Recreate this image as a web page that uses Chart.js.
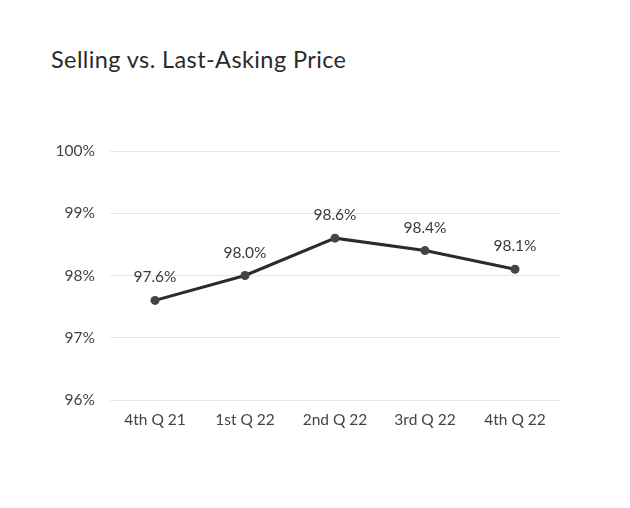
<!DOCTYPE html>
<html>
<head>
<meta charset="utf-8">
<script src="https://cdn.jsdelivr.net/npm/chart.js@4"></script>
<style>
  html, body { margin: 0; padding: 0; background: #fff; }
  #wrap { position: relative; width: 630px; height: 508px; }
  #title {
    position: absolute; left: 51px; top: 45px; margin: 0;
    font-family: Lato, "Open Sans", sans-serif; font-weight: 400;
    font-size: 23.5px; color: #2a2a2a; letter-spacing: 0.4px;
  }
  canvas { position: absolute; left: 0; top: 0; }
</style>
</head>
<body>
<div id="wrap">
  <h1 id="title">Selling vs. Last-Asking Price</h1>
  <canvas id="chart" width="630" height="508"></canvas>
</div>
<script>
// 数据
const quarters = ['4th Q 21', '1st Q 22', '2nd Q 22', '3rd Q 22', '4th Q 22'];
const ratioValues = [97.6, 98.0, 98.6, 98.4, 98.1];
const yTicks = [96, 97, 98, 99, 100];

const FONT = 'Lato, "Open Sans", sans-serif';

// 数值标签
const pointLabels = {
    id: 'pointLabels',
    afterDatasetsDraw(chart) {
        const ctx = chart.ctx;
        const meta = chart.getDatasetMeta(0);
        ctx.save();
        ctx.font = '15.5px ' + FONT;
        ctx.fillStyle = '#3a3a3a';
        ctx.textAlign = 'center';
        ctx.textBaseline = 'middle';
        meta.data.forEach((pt, i) => {
            ctx.fillText(ratioValues[i].toFixed(1) + '%', pt.x, pt.y - 23);
        });
        ctx.restore();
    }
};

new Chart(document.getElementById('chart'), {
    type: 'line',
    data: {
        labels: quarters,
        datasets: [{
            data: ratioValues,
            borderColor: '#2b2b2b',
            borderWidth: 3,
            pointRadius: 4.5,
            pointBackgroundColor: '#444',
            pointBorderColor: '#444',
            pointBorderWidth: 0,
            tension: 0
        }]
    },
    options: {
        responsive: false,
        animation: false,
        layout: { padding: { left: 0, right: 70, top: 151, bottom: 0 } },
        plugins: {
            legend: { display: false },
            tooltip: { enabled: false }
        },
        scales: {
            x: {
                offset: true,
                grid: { display: false, drawTicks: false },
                border: { display: false },
                ticks: { color: '#444', font: { size: 15.5, family: FONT }, padding: 11 },
                afterFit(scale) { scale.height = 108; }
            },
            y: {
                min: yTicks[0],
                max: yTicks[yTicks.length - 1],
                afterBuildTicks(scale) { scale.ticks = yTicks.map(v => ({ value: v })); },
                grid: { color: '#e6e6e2', lineWidth: 1, drawTicks: false },
                border: { display: false },
                ticks: {
                    color: '#444',
                    font: { size: 15.5, family: FONT },
                    padding: 15,
                    callback: v => v + '%'
                },
                afterFit(scale) { scale.width = 110; }
            }
        }
    },
    plugins: [pointLabels]
});
</script>
</body>
</html>
